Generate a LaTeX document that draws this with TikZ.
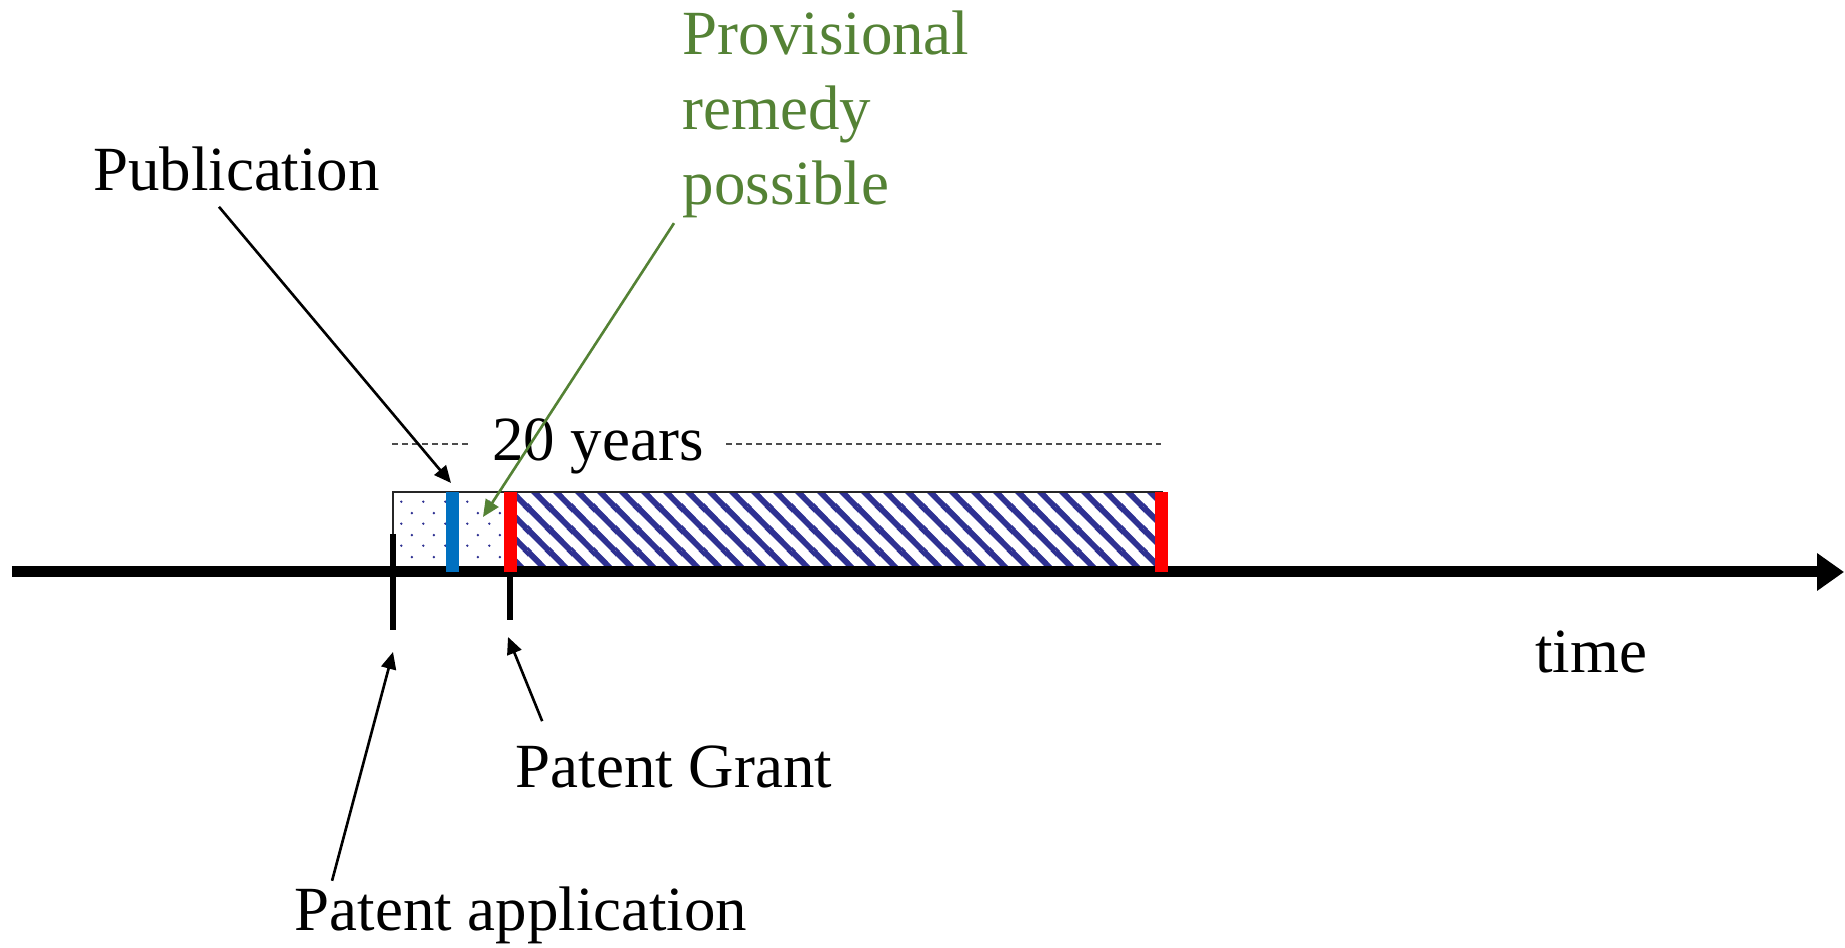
\documentclass[tikz,border=0pt]{standalone}
\usepackage{fontspec}
\setmainfont{Liberation Serif}
\usetikzlibrary{arrows.meta,patterns,patterns.meta}

\definecolor{hatchblue}{RGB}{46,49,146}
\definecolor{pubblue}{RGB}{0,112,192}
\definecolor{remedygreen}{RGB}{84,130,53}

% sparse staggered dots before the grant
\tikzdeclarepattern{
  name=sparse dots,
  type=uncolored,
  bottom left={(0cm,0cm)},
  top right={(0.22cm,0.22cm)},
  tile size={(0.22cm,0.22cm)},
  code={
    \fill (0.055cm,0.055cm) circle (0.014cm);
    \fill (0.165cm,0.165cm) circle (0.014cm);
  }
}

% wide diagonal stripes after the grant
\tikzdeclarepattern{
  name=wide hatch,
  type=uncolored,
  bottom left={(0cm,0cm)},
  top right={(0.22cm,0.22cm)},
  tile size={(0.22cm,0.22cm)},
  code={
    \draw[line width=0.06cm] (-0.11cm,0.11cm) -- (0.11cm,-0.11cm)
      (0cm,0.22cm) -- (0.22cm,0cm) (0.11cm,0.33cm) -- (0.33cm,0.11cm);
  }
}

\begin{document}
\begin{tikzpicture}[
    txt/.style={font=\fontsize{17.9}{21.3}\selectfont, inner sep=0pt},
    bar/.style={line width=0.13cm},
    tickmark/.style={line width=0.06cm},
    pointer/.style={line width=0.75pt, -{Triangle[length=0.17cm,width=0.15cm]}}
]
    \useasboundingbox (0,0) rectangle (18.45,9.47);

    % Patent term
    \fill[pattern=sparse dots, pattern color=hatchblue] (3.93,3.75) rectangle (5.10,4.55);
    \fill[pattern=wide hatch, pattern color=hatchblue] (5.10,3.75) rectangle (11.62,4.55);
    \draw[black!85, line width=0.8pt] (3.93,3.75) rectangle (11.62,4.55);

    % Time axis
    \draw[line width=0.11cm, -{Triangle[length=0.27cm,width=0.36cm]}] (0.12,3.75) -- (18.44,3.75);
    \node[txt] (time) at (15.91,2.95) {time};

    % Events on the term
    \draw[bar, pubblue] (4.525,3.75) -- (4.525,4.55);
    \foreach \x in {5.10,11.615} \draw[bar, red] (\x,3.75) -- (\x,4.55);
    \draw[tickmark] (3.93,4.13) -- (3.93,3.17);
    \draw[tickmark] (5.10,3.75) -- (5.10,3.27);

    % 20 years span
    \node[txt, inner xsep=0.22cm] (span) at (5.98,5.01) {20 years};
    \draw[black!70, line width=0.5pt, dash pattern=on 0.06cm off 0.04cm] (3.92,5.03) -- (span.west |- 0,5.03);
    \draw[black!70, line width=0.5pt, dash pattern=on 0.06cm off 0.04cm] (span.east |- 0,5.03) -- (11.61,5.03);

    % Labels and pointers
    \coordinate (pubtip) at (4.51,4.64); \coordinate (remtip) at (4.83,4.30);
    \coordinate (granttip) at (5.08,3.10); \coordinate (appltip) at (3.93,2.95);

    \node[txt] (pub) at (2.365,7.78) {Publication};
    \node[txt, remedygreen, align=left, anchor=north west] (remedy) at (6.82,9.37) {Provisional\\remedy\\possible};
    \node[txt] (grant) at (6.74,1.80) {Patent Grant};
    \node[txt] (appl) at (5.21,0.32) {Patent application};

    \draw[pointer] ([shift={(-0.175,-0.15)}]pub.south) -- (pubtip);
    \draw[pointer, remedygreen] ([shift={(-0.08,-0.05)}]remedy.south west) -- (remtip);
    \draw[pointer] ([shift={(0.27,0.24)}]grant.north west) -- (granttip);
    \draw[pointer] ([shift={(0.38,0.05)}]appl.north west) -- (appltip);
\end{tikzpicture}
\end{document}
